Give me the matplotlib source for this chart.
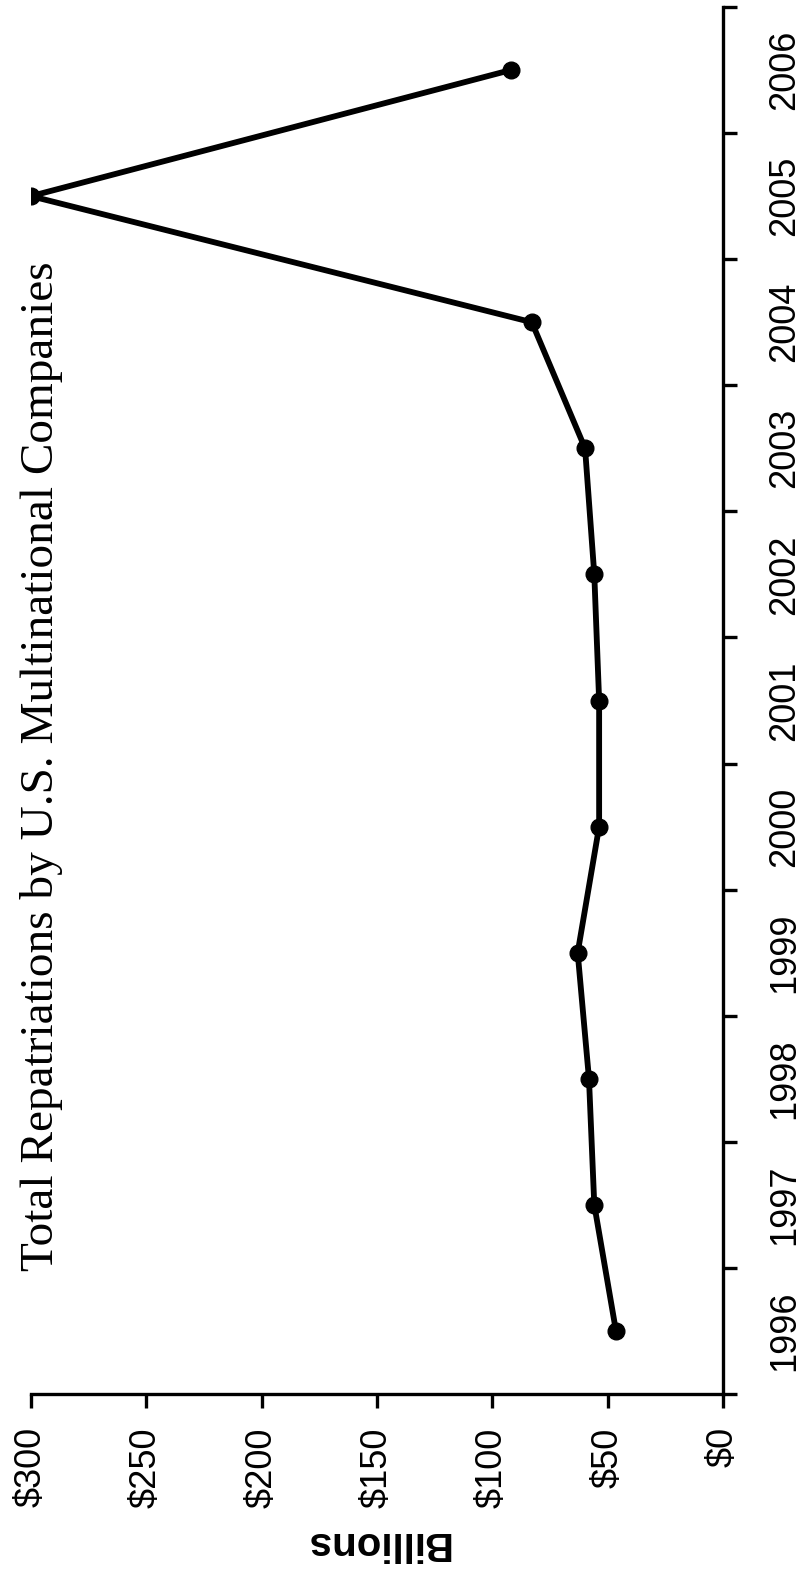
import matplotlib
matplotlib.use("Agg")
import matplotlib.pyplot as plt
import numpy as np

years = ["1996", "1997", "1998", "1999", "2000", "2001", "2002", "2003", "2004", "2005", "2006"]
repatriations = [46.4, 55.8, 58.1, 63.0, 53.7, 53.7, 55.8, 59.8, 82.9, 300.0, 92.0]
value_ticks = [0, 50, 100, 150, 200, 250, 300]
value_labels = ["$0", "$50", "$100", "$150", "$200", "$250", "$300"]
title = "Total Repatriations by U.S. Multinational Companies"
axis_label = "Billions"

W, H = 804, 1572
fig = plt.figure(figsize=(W / 100, H / 100), dpi=100)
left, right, top, bottom = 31, 723, 7, 1394
ax = fig.add_axes([left / W, 1 - bottom / H, (right - left) / W, (bottom - top) / H])

pos = np.arange(len(years))
ax.plot(repatriations, pos, color="black", lw=4.2, marker="o", ms=12,
        solid_joinstyle="miter", zorder=3)

ax.set_xlim(300, 0)
ax.set_ylim(-0.5, len(years) - 0.5)

for s in ["top", "left"]:
    ax.spines[s].set_visible(False)
for s in ["bottom", "right"]:
    ax.spines[s].set_linewidth(2.4)

# value axis (bottom)
ax.set_xticks(value_ticks)
ax.set_xticklabels(value_labels, rotation=90, fontsize=26, family="Liberation Sans")
ax.tick_params(axis="x", direction="out", length=10, width=2.4, pad=14)

# year axis (right)
ax.yaxis.set_ticks_position("right")
ax.set_yticks(np.arange(-0.5, len(years), 1.0))
ax.set_yticklabels([])
ax.set_yticks(pos, minor=True)
ax.set_yticklabels(years, minor=True, rotation=90, va="center", fontsize=26,
                   family="Liberation Sans")
ax.tick_params(axis="y", which="major", direction="out", length=10, width=2.4,
               right=True, left=False)
ax.tick_params(axis="y", which="minor", length=0, pad=32, right=True, left=False,
               labelright=True, labelleft=False)

ax.set_xlabel(axis_label, rotation=180, fontsize=29, fontweight="bold",
              family="Liberation Sans", labelpad=12)

fig.text(42 / W, 1 - 766 / H, title, rotation=90, ha="center", va="center",
         fontsize=34, family="Liberation Serif")

fig.savefig("out.png", dpi=100)
